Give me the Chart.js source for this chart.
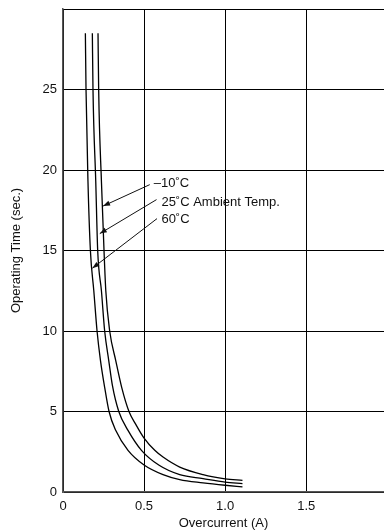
<!DOCTYPE html>
<html>
<head>
<meta charset="utf-8">
<title>Overcurrent vs Operating Time</title>
<script src="https://cdn.jsdelivr.net/npm/chart.js@4.4.1/dist/chart.umd.min.js"></script>
<style>
    html, body { margin: 0; padding: 0; overflow: hidden; background: #fff; }
    .wrap { position: absolute; left: 0; top: 0; width: 384px; height: 532px; }
</style>
</head>
<body>
<div class="wrap"><canvas id="chart"></canvas></div>
<script>

// curve labels (used as callout texts)
const seriesNames = ["–10˚C", "25˚C Ambient Temp.", "60˚C"];

// -10 C curve
const currentCold = [0.216, 0.220, 0.237, 0.253, 0.264, 0.288, 0.325, 0.362, 0.407, 0.449, 0.500, 0.566, 0.617, 0.720, 0.864, 1.000, 1.107];
const timeCold    = [28.5, 25.0, 19.3, 15.0, 12.5, 10.0, 8.18, 6.50, 5.00, 4.20, 3.35, 2.59, 2.17, 1.55, 1.08, 0.82, 0.72];

// 25 C curve
const currentRoom = [0.181, 0.185, 0.202, 0.214, 0.237, 0.257, 0.282, 0.305, 0.344, 0.401, 0.484, 0.593, 0.720, 0.864, 1.000, 1.107];
const timeRoom    = [28.5, 25.0, 19.3, 15.0, 12.5, 10.0, 8.18, 6.60, 5.00, 3.83, 2.59, 1.66, 1.08, 0.83, 0.61, 0.52];

// 60 C curve
const currentHot = [0.138, 0.142, 0.154, 0.169, 0.190, 0.210, 0.231, 0.257, 0.284, 0.325, 0.401, 0.500, 0.617, 0.720, 0.864, 1.000, 1.107];
const timeHot    = [28.5, 25.0, 19.3, 15.0, 12.5, 10.0, 8.18, 6.50, 5.00, 3.83, 2.59, 1.68, 1.08, 0.77, 0.57, 0.42, 0.32];

const xTickLabels = ["0", "0.5", "1.0", "1.5"];
const yTickLabels = ["0", "5", "10", "15", "20", "25"];

const toPoints = (xs, ys) => xs.map((v, i) => ({ x: v, y: ys[i] }));

// callouts in data units: text start, arrow tail, arrow tip
const callouts = [
    { text: seriesNames[0], at: [0.560, 19.16], from: [0.535, 19.09], to: [0.247, 17.76] },
    { text: seriesNames[1], at: [0.607, 17.98], from: [0.577, 18.16], to: [0.227, 16.05] },
    { text: seriesNames[2], at: [0.607, 16.92], from: [0.580, 16.98], to: [0.181, 13.90] }
];

const calloutPlugin = {
    id: "callouts",
    afterDatasetsDraw(chart) {
        const { ctx, scales: { x, y } } = chart;
        ctx.save();
        ctx.font = '13px "Liberation Sans", Arial, sans-serif';
        ctx.fillStyle = "#111";
        ctx.strokeStyle = "#111";
        ctx.lineWidth = 1;
        ctx.textBaseline = "middle";
        callouts.forEach(c => {
            ctx.fillText(c.text, x.getPixelForValue(c.at[0]), y.getPixelForValue(c.at[1]));

            const x1 = x.getPixelForValue(c.from[0]), y1 = y.getPixelForValue(c.from[1]);
            const x2 = x.getPixelForValue(c.to[0]), y2 = y.getPixelForValue(c.to[1]);
            ctx.beginPath();
            ctx.moveTo(x1, y1);
            ctx.lineTo(x2, y2);
            ctx.stroke();

            // arrow head
            const a = Math.atan2(y2 - y1, x2 - x1);
            const len = 7, w = 2.5;
            ctx.beginPath();
            ctx.moveTo(x2, y2);
            ctx.lineTo(x2 - len * Math.cos(a) + w * Math.sin(a), y2 - len * Math.sin(a) - w * Math.cos(a));
            ctx.lineTo(x2 - len * Math.cos(a) - w * Math.sin(a), y2 - len * Math.sin(a) + w * Math.cos(a));
            ctx.closePath();
            ctx.fill();
        });
        ctx.restore();
    }
};

Chart.defaults.font.family = '"Liberation Sans", Arial, Helvetica, sans-serif';
Chart.defaults.font.size = 13;
Chart.defaults.color = "#111";

const lineStyle = {
    showLine: true,
    borderColor: "#000",
    borderWidth: 1.3,
    pointRadius: 0,
    fill: false,
    cubicInterpolationMode: "monotone"
};

const createChart = () => {
    const ctx = document.querySelector("canvas#chart");

    new Chart(ctx, {
        type: "scatter",
        data: {
            datasets: [
                { label: seriesNames[0], data: toPoints(currentCold, timeCold), ...lineStyle },
                { label: seriesNames[1], data: toPoints(currentRoom, timeRoom), ...lineStyle },
                { label: seriesNames[2], data: toPoints(currentHot, timeHot), ...lineStyle }
            ]
        },
        options: {
            responsive: true,
            maintainAspectRatio: false,
            animation: false,
            layout: { padding: { top: 9, right: 0, left: 0, bottom: 0 } },
            plugins: {
                legend: { display: false },
                tooltip: { enabled: false }
            },
            scales: {
                x: {
                    type: "linear",
                    min: 0,
                    max: 1.98,
                    afterFit: s => { s.height = 40; s.paddingLeft = 0; s.paddingRight = 0; },
                    ticks: {
                        stepSize: 0.5,
                        includeBounds: false,
                        padding: 7,
                        maxRotation: 0,
                        callback: (v, i) => xTickLabels[i] ?? ""
                    },
                    grid: { color: "#000", lineWidth: 1, drawTicks: false },
                    border: { color: "#555", width: 1.5 },
                    title: {
                        display: true,
                        text: "Overcurrent (A)",
                        padding: { top: 0, bottom: 1 }
                    }
                },
                y: {
                    min: 0,
                    max: 30,
                    afterFit: s => { s.width = 63; s.paddingTop = 0; s.paddingBottom = 0; },
                    ticks: {
                        stepSize: 5,
                        padding: 6,
                        callback: (v, i) => yTickLabels[i] ?? ""
                    },
                    grid: { color: "#000", lineWidth: 1, drawTicks: false },
                    border: { color: "#555", width: 1.5 },
                    title: {
                        display: true,
                        text: "Operating Time (sec.)",
                        padding: { top: 9, bottom: 0 }
                    }
                }
            }
        },
        plugins: [calloutPlugin]
    });
};

createChart();
</script>
</body>
</html>
